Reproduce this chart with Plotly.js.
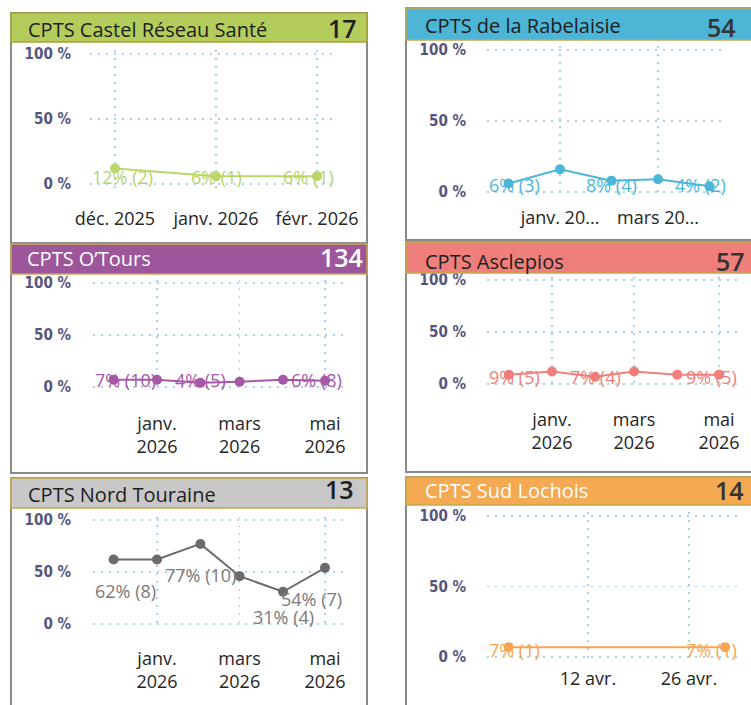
<!DOCTYPE html>
<html><head><meta charset="utf-8">
<script src="https://cdn.plot.ly/plotly-3.0.1.min.js"></script>
<style>html,body{margin:0;padding:0;background:#fff;}#chart{width:751px;height:705px;}</style>
</head><body><div id="chart"></div>
<script>
// ---------------- data ----------------
const panelNames = ['CPTS Castel Réseau Santé', 'CPTS de la Rabelaisie', 'CPTS O\u2019Tours', 'CPTS Asclepios', 'CPTS Nord Touraine', 'CPTS Sud Lochois'];
const panelTotals = [17, 54, 134, 57, 13, 14];

const castelMonths = ['2025-12-01', '2026-01-01', '2026-02-01'];
const castelPct = [12, 6, 6];
const castelCount = [2, 1, 1];

const rabelaisieMonths = ['2025-12-01', '2026-01-01', '2026-02-01', '2026-03-01', '2026-04-01'];
const rabelaisiePct = [6, 16, 8, 9, 4];
const rabelaisieCount = [3, null, 4, null, 2];

const otoursMonths = ['2025-12-01', '2026-01-01', '2026-02-01', '2026-03-01', '2026-04-01', '2026-05-01'];
const otoursPct = [7, 7, 4, 5, 7, 6];
const otoursCount = [10, null, 5, null, null, 8];

const asclepiosMonths = ['2025-12-01', '2026-01-01', '2026-02-01', '2026-03-01', '2026-04-01', '2026-05-01'];
const asclepiosPct = [9, 12, 7, 12, 9, 9];
const asclepiosCount = [5, null, 4, null, null, 5];

const nordMonths = ['2025-12-01', '2026-01-01', '2026-02-01', '2026-03-01', '2026-04-01', '2026-05-01'];
const nordPct = [62, 62, 77, 46, 31, 54];
const nordCount = [8, null, 10, null, 4, 7];

const sudMonths = ['2026-04-01', '2026-05-01'];
const sudPct = [7, 7];
const sudCount = [1, 1];

const castelTicks = ['2025-12-01', '2026-01-01', '2026-02-01'];
const castelTickText = ['déc. 2025', 'janv. 2026', 'févr. 2026'];
const rabelaisieTicks = ['2026-01-01', '2026-03-01'];
const rabelaisieTickText = ['janv. 20...', 'mars 20...'];
const sixMonthTicks = ['2026-01-01', '2026-03-01', '2026-05-01'];
const sixMonthTickText = ['janv.<br>2026', 'mars<br>2026', 'mai<br>2026'];
const sudTicks = ['2026-04-12', '2026-04-26'];
const sudTickText = ['12 avr.', '26 avr.'];
const pctTicks = [0, 50, 100];
const pctTickText = ['0 %', '50 %', '100 %'];

// ---------------- layout / style ----------------
const W = 751, H = 705;
const fontUI = '"Open Sans", "Noto Sans", sans-serif';
const fontAxis = '"DejaVu Sans Condensed", "DejaVu Sans", sans-serif';
const gridColor = '#a6d3ee';
const boxColor = '#8a8a8a';
const goldLine = '#c6a64c';
const PAD = 3; // % of padding around the 0-100 range so edge gridlines are drawn

function ms(s) { const p = s.split('-').map(Number); return Date.UTC(p[0], p[1] - 1, p[2]); }

const panels = [
  { x: castelMonths, y: castelPct, n: castelCount, tv: castelTicks, tt: castelTickText,
    color: '#bad66c', lab: '#b8d46a', hdr: '#b3cc5c', hdrLine: '#a9a23a', titleColor: '#1e1e1e', numColor: '#1e1e1e',
    L: 90, R: 335, top: 54, bot: 184, a1: ['2025-12-01', 115], a2: ['2026-02-01', 317],
    box: [11, 367, 13, 243], hy: [13, 42], tX: 26, tY: 30, nX: 359, nY: 28, yGap: 18, xGap: 35 },
  { x: rabelaisieMonths, y: rabelaisiePct, n: rabelaisieCount, tv: rabelaisieTicks, tt: rabelaisieTickText,
    color: '#4cb6d8', lab: '#4cb6d8', hdr: '#4db5d6', hdrLine: goldLine, titleColor: '#1e1e1e', numColor: '#333333',
    L: 487, R: 727, top: 50, bot: 192, a1: ['2026-01-01', 560], a2: ['2026-03-01', 658],
    box: [406, 780, 8, 240], hy: [8, 40], tX: 423, tY: 25, nX: 738, nY: 27, yGap: 20, xGap: 26 },
  { x: otoursMonths, y: otoursPct, n: otoursCount, tv: sixMonthTicks, tt: sixMonthTickText,
    color: '#a558a5', lab: '#a558a5', hdr: '#9d569b', hdrLine: goldLine, titleColor: '#ffffff', numColor: '#ffffff',
    L: 93, R: 343, top: 283, bot: 387, a1: ['2026-01-01', 157], a2: ['2026-05-01', 325],
    box: [11, 367, 244, 473], hy: [244, 274], tX: 25, tY: 258, nX: 365, nY: 257, yGap: 21, xGap: 37 },
  { x: asclepiosMonths, y: asclepiosPct, n: asclepiosCount, tv: sixMonthTicks, tt: sixMonthTickText,
    color: '#f07f7c', lab: '#f07f7c', hdr: '#ef7f7a', hdrLine: goldLine, titleColor: '#1e1e1e', numColor: '#333333',
    L: 487, R: 738, top: 280, bot: 384, a1: ['2026-01-01', 552], a2: ['2026-05-01', 719],
    box: [406, 780, 242, 472], hy: [242, 273], tX: 423, tY: 261, nX: 747, nY: 261, yGap: 20, xGap: 36 },
  { x: nordMonths, y: nordPct, n: nordCount, tv: sixMonthTicks, tt: sixMonthTickText,
    color: '#6b6b6b', lab: '#7a7a7a', hdr: '#c8c8c8', hdrLine: goldLine, titleColor: '#1e1e1e', numColor: '#1e1e1e',
    L: 93, R: 343, top: 520, bot: 624, a1: ['2026-01-01', 157], a2: ['2026-05-01', 325],
    box: [11, 367, 478, 720], hy: [478, 508], tX: 26, tY: 494, nX: 356, nY: 489, yGap: 21, xGap: 35 },
  { x: sudMonths, y: sudPct, n: sudCount, tv: sudTicks, tt: sudTickText,
    color: '#f5a652', lab: '#f5a652', hdr: '#f4a953', hdrLine: goldLine, titleColor: '#ffffff', numColor: '#333333',
    L: 487, R: 738, top: 516, bot: 657, a1: ['2026-04-12', 588], a2: ['2026-04-26', 689],
    box: [406, 780, 477, 720], hy: [477, 505], tX: 423, tY: 490, nX: 746, nY: 490, yGap: 20, xGap: 22 }
];

const canvas = document.createElement('canvas');
const ctx = canvas.getContext('2d');
ctx.font = '18px "Open Sans"';

const traces = [], shapes = [], annotations = [];
const layout = {
  width: W, height: H, margin: { l: 0, r: 0, t: 0, b: 0 },
  paper_bgcolor: '#ffffff', plot_bgcolor: 'rgba(0,0,0,0)', showlegend: false,
  hovermode: false, shapes: shapes, annotations: annotations
};

panels.forEach((p, i) => {
  const k = (p.a2[1] - p.a1[1]) / (ms(p.a2[0]) - ms(p.a1[0]));
  const r0 = ms(p.a1[0]) - (p.a1[1] - p.L) / k;
  const r1 = ms(p.a1[0]) + (p.R - p.a1[1]) / k;
  const sfx = i === 0 ? '' : String(i + 1);
  const pxPct = (p.bot - p.top) / 100;
  const yBotPx = p.bot + PAD * pxPct, yTopPx = p.top - PAD * pxPct;
  const xShift = PAD * pxPct; // x axis sits at the padded bottom

  traces.push({
    type: 'scatter', mode: 'lines+markers', x: p.x, y: p.y,
    xaxis: 'x' + sfx, yaxis: 'y' + sfx, cliponaxis: false, hoverinfo: 'skip',
    line: { color: p.color, width: 2 }, marker: { color: p.color, size: 10 }
  });

  layout['xaxis' + sfx] = {
    type: 'date', domain: [p.L / W, Math.min(1, p.R / W)], range: [r0, r1], anchor: 'y' + sfx,
    tickmode: 'array', tickvals: p.tv, ticktext: p.tt,
    showgrid: true, gridcolor: gridColor, griddash: '2px,6px', gridwidth: 1.5,
    zeroline: false, showline: false, ticks: 'outside', ticklen: Math.max(1, p.xGap - 17 - xShift), tickcolor: 'rgba(0,0,0,0)',
    tickfont: { family: fontUI, size: 18, color: '#252525' }, fixedrange: true
  };
  layout['yaxis' + sfx] = {
    domain: [1 - yBotPx / H, 1 - yTopPx / H], range: [-PAD, 100 + PAD], anchor: 'x' + sfx,
    tickmode: 'array', tickvals: pctTicks, ticktext: pctTickText,
    showgrid: true, gridcolor: gridColor, griddash: '2px,6px', gridwidth: 1.5,
    zeroline: false, showline: false, ticks: 'outside', ticklen: p.yGap - 3, tickcolor: 'rgba(0,0,0,0)',
    tickfont: { family: fontAxis, size: 15, color: '#55557f', weight: 'bold' }, fixedrange: true
  };

  // panel frame + header
  shapes.push({ type: 'rect', xref: 'paper', yref: 'paper', layer: 'below',
    x0: p.box[0] / W, x1: p.box[1] / W, y0: 1 - p.box[3] / H, y1: 1 - p.box[2] / H,
    line: { color: boxColor, width: 2 }, fillcolor: 'rgba(0,0,0,0)' });
  shapes.push({ type: 'rect', xref: 'paper', yref: 'paper',
    x0: p.box[0] / W, x1: p.box[1] / W, y0: 1 - p.hy[1] / H, y1: 1 - p.hy[0] / H,
    line: { color: p.hdrLine, width: 1.5 }, fillcolor: p.hdr });

  annotations.push({ xref: 'paper', yref: 'paper', x: p.tX / W, y: 1 - p.tY / H, xanchor: 'left', yanchor: 'middle',
    showarrow: false, text: panelNames[i], font: { family: fontUI, size: 20, color: p.titleColor } });
  annotations.push({ xref: 'paper', yref: 'paper', x: p.nX / W, y: 1 - p.nY / H, xanchor: 'right', yanchor: 'middle',
    showarrow: false, text: String(panelTotals[i]), font: { family: fontUI, size: 25, color: p.numColor, weight: 600 } });

  // data labels (kept inside the plot area, like the source)
  p.x.forEach((d, j) => {
    if (p.n[j] === null) return;
    const txt = p.y[j] + '% (' + p.n[j] + ')';
    const w = ctx.measureText(txt).width;
    const px = p.L + (ms(d) - r0) * k;
    const py = p.bot - p.y[j] / 100 * (p.bot - p.top);
    const cy = Math.min(py + 31, p.bot - 7);
    let ax = px, anc = 'center';
    if (px - w / 2 < p.L + 1) { ax = p.L + 1; anc = 'left'; }
    else if (px + w / 2 > p.R) { ax = p.R; anc = 'right'; }
    annotations.push({ xref: 'paper', yref: 'paper', x: ax / W, y: 1 - cy / H, xanchor: anc, yanchor: 'middle',
      showarrow: false, text: txt, borderpad: 0, font: { family: fontUI, size: 18, color: p.lab } });
  });
});

Plotly.newPlot('chart', traces, layout, { staticPlot: true, displayModeBar: false });
</script>
</body></html>
